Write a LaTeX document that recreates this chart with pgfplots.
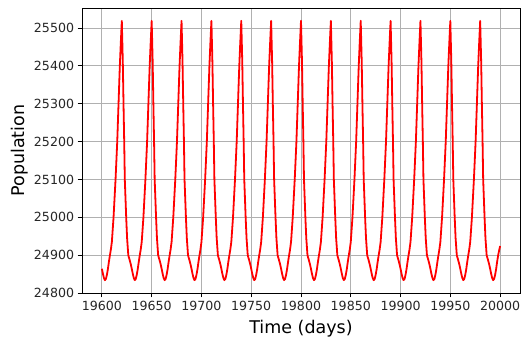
\documentclass[border=0pt]{standalone}
\usepackage{pgfplots}
\pgfplotsset{compat=1.18}
\usepackage{fontspec}
\setmainfont{DejaVu Sans}
\definecolor{gridgray}{HTML}{B0B0B0}
\begin{document}
\begin{tikzpicture}
\useasboundingbox (-82pt,-48pt) rectangle (439pt,293pt);
\begin{axis}[
  at={(0,0)}, anchor=south west,
  scale only axis, width=438pt, height=285pt,
  xmin=19580, xmax=20020, ymin=24800, ymax=25553,
  xtick={19600,19650,...,20000},
  ytick={24800,24900,...,25500},
  scaled ticks=false,
  /pgf/number format/1000 sep={},
  /pgf/number format/assume math mode=true,
  tick align=outside, xtick pos=bottom, ytick pos=left,
  major tick length=4.4pt,
  every tick/.style={black, line width=0.9pt},
  axis line style={black, line width=0.9pt},
  grid=major,
  major grid style={gridgray, line width=0.85pt},
  ticklabel style={font=\fontsize{12.6}{15}\selectfont, text=black!85},
  label style={font=\fontsize{17.5}{21}\selectfont, text=black},
  xlabel={Time (days)}, ylabel={Population},
  xlabel style={at={(axis description cs:0.5,-0.1263)}, anchor=center},
  ylabel style={at={(axis description cs:-0.1415,0.5)}, anchor=center},
]
\addplot[red, line width=1.8pt, line join=round, no markers] coordinates {
(19600,24864)(19601,24851)(19602,24840)(19603,24834)(19604,24837)(19605,24848)(19606,24863)(19607,24882)(19608,24899)(19609,24915)(19610,24935)(19611.7,25000)(19613.7,25100)(19615.4,25200)(19616.7,25300)(19618,25400)(19619,25462)
(19620,25519)(19621,25410)(19621.7,25300)(19622.4,25200)(19623,25100)(19624.4,25000)(19625.3,24945)(19626.5,24900)(19627,24895)(19627.7,24889)(19629,24876)(19630,24864)(19631,24851)(19632,24840)(19633,24834)(19634,24837)(19635,24848)(19636,24863)(19637,24882)(19638,24899)(19639,24915)(19640,24935)(19641.7,25000)(19643.7,25100)(19645.4,25200)(19646.7,25300)(19648,25400)(19649,25462)
(19650,25519)(19651,25410)(19651.7,25300)(19652.4,25200)(19653,25100)(19654.4,25000)(19655.3,24945)(19656.5,24900)(19657,24895)(19657.7,24889)(19659,24876)(19660,24864)(19661,24851)(19662,24840)(19663,24834)(19664,24837)(19665,24848)(19666,24863)(19667,24882)(19668,24899)(19669,24915)(19670,24935)(19671.7,25000)(19673.7,25100)(19675.4,25200)(19676.7,25300)(19678,25400)(19679,25462)
(19680,25519)(19681,25410)(19681.7,25300)(19682.4,25200)(19683,25100)(19684.4,25000)(19685.3,24945)(19686.5,24900)(19687,24895)(19687.7,24889)(19689,24876)(19690,24864)(19691,24851)(19692,24840)(19693,24834)(19694,24837)(19695,24848)(19696,24863)(19697,24882)(19698,24899)(19699,24915)(19700,24935)(19701.7,25000)(19703.7,25100)(19705.4,25200)(19706.7,25300)(19708,25400)(19709,25462)
(19710,25519)(19711,25410)(19711.7,25300)(19712.4,25200)(19713,25100)(19714.4,25000)(19715.3,24945)(19716.5,24900)(19717,24895)(19717.7,24889)(19719,24876)(19720,24864)(19721,24851)(19722,24840)(19723,24834)(19724,24837)(19725,24848)(19726,24863)(19727,24882)(19728,24899)(19729,24915)(19730,24935)(19731.7,25000)(19733.7,25100)(19735.4,25200)(19736.7,25300)(19738,25400)(19739,25462)
(19740,25519)(19741,25410)(19741.7,25300)(19742.4,25200)(19743,25100)(19744.4,25000)(19745.3,24945)(19746.5,24900)(19747,24895)(19747.7,24889)(19749,24876)(19750,24864)(19751,24851)(19752,24840)(19753,24834)(19754,24837)(19755,24848)(19756,24863)(19757,24882)(19758,24899)(19759,24915)(19760,24935)(19761.7,25000)(19763.7,25100)(19765.4,25200)(19766.7,25300)(19768,25400)(19769,25462)
(19770,25519)(19771,25410)(19771.7,25300)(19772.4,25200)(19773,25100)(19774.4,25000)(19775.3,24945)(19776.5,24900)(19777,24895)(19777.7,24889)(19779,24876)(19780,24864)(19781,24851)(19782,24840)(19783,24834)(19784,24837)(19785,24848)(19786,24863)(19787,24882)(19788,24899)(19789,24915)(19790,24935)(19791.7,25000)(19793.7,25100)(19795.4,25200)(19796.7,25300)(19798,25400)(19799,25462)
(19800,25519)(19801,25410)(19801.7,25300)(19802.4,25200)(19803,25100)(19804.4,25000)(19805.3,24945)(19806.5,24900)(19807,24895)(19807.7,24889)(19809,24876)(19810,24864)(19811,24851)(19812,24840)(19813,24834)(19814,24837)(19815,24848)(19816,24863)(19817,24882)(19818,24899)(19819,24915)(19820,24935)(19821.7,25000)(19823.7,25100)(19825.4,25200)(19826.7,25300)(19828,25400)(19829,25462)
(19830,25519)(19831,25410)(19831.7,25300)(19832.4,25200)(19833,25100)(19834.4,25000)(19835.3,24945)(19836.5,24900)(19837,24895)(19837.7,24889)(19839,24876)(19840,24864)(19841,24851)(19842,24840)(19843,24834)(19844,24837)(19845,24848)(19846,24863)(19847,24882)(19848,24899)(19849,24915)(19850,24935)(19851.7,25000)(19853.7,25100)(19855.4,25200)(19856.7,25300)(19858,25400)(19859,25462)
(19860,25519)(19861,25410)(19861.7,25300)(19862.4,25200)(19863,25100)(19864.4,25000)(19865.3,24945)(19866.5,24900)(19867,24895)(19867.7,24889)(19869,24876)(19870,24864)(19871,24851)(19872,24840)(19873,24834)(19874,24837)(19875,24848)(19876,24863)(19877,24882)(19878,24899)(19879,24915)(19880,24935)(19881.7,25000)(19883.7,25100)(19885.4,25200)(19886.7,25300)(19888,25400)(19889,25462)
(19890,25519)(19891,25410)(19891.7,25300)(19892.4,25200)(19893,25100)(19894.4,25000)(19895.3,24945)(19896.5,24900)(19897,24895)(19897.7,24889)(19899,24876)(19900,24864)(19901,24851)(19902,24840)(19903,24834)(19904,24837)(19905,24848)(19906,24863)(19907,24882)(19908,24899)(19909,24915)(19910,24935)(19911.7,25000)(19913.7,25100)(19915.4,25200)(19916.7,25300)(19918,25400)(19919,25462)
(19920,25519)(19921,25410)(19921.7,25300)(19922.4,25200)(19923,25100)(19924.4,25000)(19925.3,24945)(19926.5,24900)(19927,24895)(19927.7,24889)(19929,24876)(19930,24864)(19931,24851)(19932,24840)(19933,24834)(19934,24837)(19935,24848)(19936,24863)(19937,24882)(19938,24899)(19939,24915)(19940,24935)(19941.7,25000)(19943.7,25100)(19945.4,25200)(19946.7,25300)(19948,25400)(19949,25462)
(19950,25519)(19951,25410)(19951.7,25300)(19952.4,25200)(19953,25100)(19954.4,25000)(19955.3,24945)(19956.5,24900)(19957,24895)(19957.7,24889)(19959,24876)(19960,24864)(19961,24851)(19962,24840)(19963,24834)(19964,24837)(19965,24848)(19966,24863)(19967,24882)(19968,24899)(19969,24915)(19970,24935)(19971.7,25000)(19973.7,25100)(19975.4,25200)(19976.7,25300)(19978,25400)(19979,25462)
(19980,25519)(19981,25410)(19981.7,25300)(19982.4,25200)(19983,25100)(19984.4,25000)(19985.3,24945)(19986.5,24900)(19987,24895)(19987.7,24889)(19989,24876)(19990,24864)(19991,24851)(19992,24840)(19993,24834)(19994,24837)(19995,24848)(19996,24863)(19997,24882)(19998,24899)(19999,24912)(20000,24924)
};
\end{axis}
\end{tikzpicture}
\end{document}
